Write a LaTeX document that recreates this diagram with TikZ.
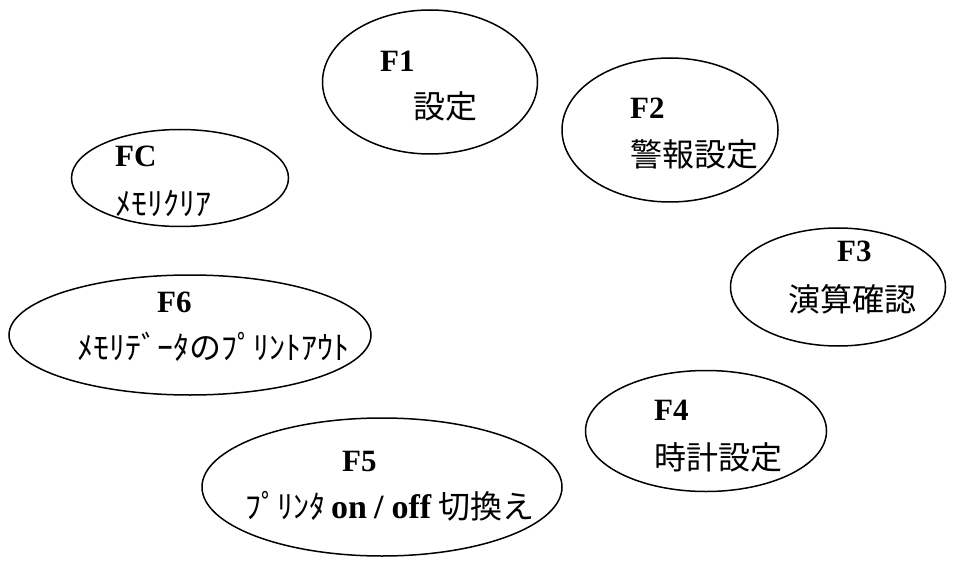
\documentclass[tikz,border=0pt]{standalone}
\usepackage{fontspec}
\setmainfont{Liberation Serif}
\newfontfamily\jp{Noto Sans CJK JP}
\usetikzlibrary{shapes.geometric}
\begin{document}
\begin{tikzpicture}[x=1pt,y=-1pt,
  ell/.style={draw=black,ellipse,line width=1.5pt,inner sep=0pt},
  lab/.style={anchor=west,inner sep=0pt,font=\fontsize{31}{36}\selectfont\bfseries},
  jtxt/.style={anchor=west,inner sep=0pt,font=\fontsize{32}{36}\selectfont\jp}]
\useasboundingbox (0,0) rectangle (960,561);
% ellipses
\node[ell,minimum width=215pt,minimum height=144pt] (e1) at (430,82) {};
\node[ell,minimum width=216pt,minimum height=144pt] (e2) at (670,130) {};
\node[ell,minimum width=217pt,minimum height=97pt] (ec) at (180,178) {};
\node[ell,minimum width=215pt,minimum height=118pt] (e3) at (838,287) {};
\node[ell,minimum width=241pt,minimum height=121pt] (e4) at (706,431) {};
\node[ell,minimum width=362pt,minimum height=120pt] (e6) at (190,335) {};
\node[ell,minimum width=360pt,minimum height=138pt] (e5) at (382,487) {};
% labels
\node[lab] (l1) at (380,61) {F1};
\node[jtxt] (t1) at (413,106) {設定};
\node[lab] (l2) at (630,108) {F2};
\node[jtxt] (t2) at (630,154) {警報設定};
\node[lab] (lc) at (115,156) {FC};
\node[jtxt] (tc) at (115,204) {ﾒﾓﾘｸﾘｱ};
\node[lab] (l3) at (837,251) {F3};
\node[jtxt] (t3) at (788,299) {演算確認};
\node[lab] (l4) at (654,410) {F4};
\node[jtxt] (t4) at (654,457) {時計設定};
\node[lab] (l6) at (157,302) {F6};
\node[jtxt] (t6) at (77,347) {ﾒﾓﾘﾃﾞｰﾀのﾌﾟﾘﾝﾄｱｳﾄ};
\node[lab] (l5) at (342,461) {F5};
\node[jtxt] (t5) at (245,506) {ﾌﾟﾘﾝﾀ\hspace{6pt}{\rmfamily\bfseries\fontsize{34}{36}\selectfont on\hspace{7pt}/\hspace{8pt}off}\hspace{7pt}切換え};
\end{tikzpicture}
\end{document}
